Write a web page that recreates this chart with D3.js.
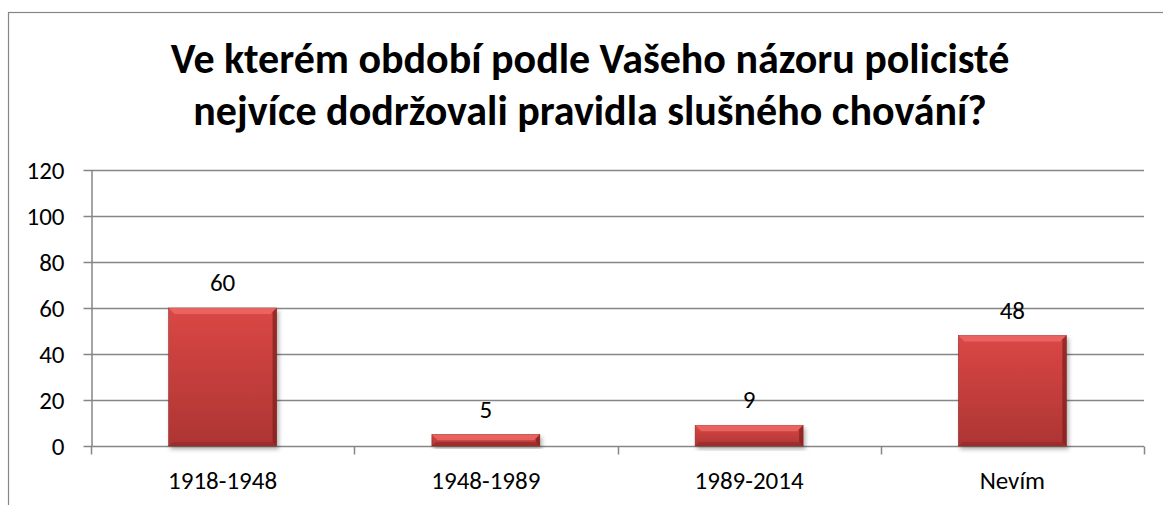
<!DOCTYPE html>
<html>
<head>
<meta charset="utf-8">
<script src="https://d3js.org/d3.v7.min.js"></script>
<style>
  body { margin: 0; background: white; }
  text { font-family: Carlito, Calibri, "Open Sans", "Liberation Sans", sans-serif; }
</style>
</head>
<body>
<script>
// data
var categories = ["1918-1948", "1948-1989", "1989-2014", "Nevím"];
var values = [60, 5, 9, 48];
var yTicks = [0, 20, 40, 60, 80, 100, 120];
var titleLines = ["Ve kterém období podle Vašeho názoru policisté", "nejvíce dodržovali pravidla slušného chování?"];

var width = 1163, height = 505;
var plotLeft = 91, plotRight = 1144, plotTop = 170, plotBottom = 446;
var fontStack = "Carlito, Calibri, 'Open Sans', 'Liberation Sans', sans-serif";

var svg = d3.select("body").append("svg")
    .attr("width", width)
    .attr("height", height);

var defs = svg.append("defs");
var grad = defs.append("linearGradient").attr("id", "barGrad")
    .attr("x1", 0).attr("y1", 0).attr("x2", 0).attr("y2", 1);
grad.append("stop").attr("offset", "0%").attr("stop-color", "#da4745");
grad.append("stop").attr("offset", "100%").attr("stop-color", "#ad3533");

var shadow = defs.append("filter").attr("id", "shadow")
    .attr("x", "-10%").attr("y", "-10%").attr("width", "130%").attr("height", "130%");
shadow.append("feDropShadow").attr("dx", 2).attr("dy", 3).attr("stdDeviation", 2)
    .attr("flood-color", "#000").attr("flood-opacity", 0.3);

// outer frame
svg.append("rect")
    .attr("x", 8.5).attr("y", 12.5)
    .attr("width", 1170).attr("height", 510)
    .attr("fill", "white").attr("stroke", "#868686").attr("stroke-width", 1.2);

// title
svg.append("g").selectAll("text")
    .data(titleLines)
    .enter().append("text")
    .attr("x", 590)
    .attr("y", function(d, i) { return 73 + i * 52; })
    .attr("text-anchor", "middle")
    .attr("font-size", "42px")
    .attr("font-weight", "bold")
    .attr("fill", "#000")
    .text(function(d) { return d; });

var x = d3.scaleBand().domain(categories).range([plotLeft, plotRight]).paddingInner(0.59).paddingOuter(0.295);
var xOuter = d3.scaleBand().domain(categories).range([plotLeft, plotRight]);
var y = d3.scaleLinear().domain([0, 120]).range([plotBottom, plotTop]);

// gridlines
svg.append("g").selectAll("line")
    .data(yTicks.filter(function(d) { return d > 0; }))
    .enter().append("line")
    .attr("x1", plotLeft).attr("x2", plotRight)
    .attr("y1", function(d) { return Math.round(y(d)) + 0.5; })
    .attr("y2", function(d) { return Math.round(y(d)) + 0.5; })
    .attr("stroke", "#868686").attr("stroke-width", 1.5);

// y axis
var yAxis = svg.append("g")
    .attr("transform", "translate(" + (plotLeft + 0.5) + ",0)")
    .call(d3.axisLeft(y).tickValues(yTicks).tickSize(8).tickPadding(19).tickSizeOuter(0));
yAxis.select("path").attr("stroke", "#868686").attr("stroke-width", 1.5);
yAxis.selectAll("line").attr("stroke", "#868686").attr("stroke-width", 1.5);
yAxis.selectAll("text").attr("font-size", "25px").attr("fill", "#000")
    .style("font-family", fontStack);

// x axis with ticks at category boundaries
var xAxisG = svg.append("g").attr("transform", "translate(0," + (plotBottom + 0.5) + ")");
xAxisG.append("line").attr("x1", plotLeft).attr("x2", plotRight)
    .attr("stroke", "#868686").attr("stroke-width", 1.5);
var bounds = categories.map(function(c) { return xOuter(c); }).concat([plotRight]);
xAxisG.selectAll("line.tick").data(bounds).enter().append("line")
    .attr("class", "tick")
    .attr("x1", function(d) { return Math.round(d) + 0.5; })
    .attr("x2", function(d) { return Math.round(d) + 0.5; })
    .attr("y1", 0).attr("y2", 8)
    .attr("stroke", "#868686").attr("stroke-width", 1.5);
xAxisG.selectAll("text").data(categories).enter().append("text")
    .attr("x", function(d) { return xOuter(d) + xOuter.bandwidth() / 2; })
    .attr("y", 42)
    .attr("text-anchor", "middle")
    .attr("font-size", "25px")
    .attr("fill", "#000")
    .text(function(d) { return d; });

// bars
var bars = svg.append("g").selectAll("g")
    .data(categories.map(function(c, i) { return { cat: c, val: values[i] }; }))
    .enter().append("g");

bars.append("rect")
    .attr("x", function(d) { return x(d.cat); })
    .attr("y", function(d) { return y(d.val); })
    .attr("width", x.bandwidth())
    .attr("height", function(d) { return y(0) - y(d.val); })
    .attr("fill", "url(#barGrad)")
    .attr("stroke", "#8a2826").attr("stroke-width", 0.6)
    .attr("filter", "url(#shadow)");

// bevel: top highlight
bars.append("path")
    .attr("d", function(d) {
        var x0 = x(d.cat), x1 = x0 + x.bandwidth(), y0 = y(d.val), b = Math.min(6, (y(0) - y(d.val)) / 2);
        return "M" + x0 + "," + y0 + "L" + x1 + "," + y0 + "L" + (x1 - b) + "," + (y0 + b) + "L" + (x0 + b) + "," + (y0 + b) + "Z";
    })
    .attr("fill", "#ee6a68").attr("opacity", 0.8);
// bevel: right dark edge
bars.append("path")
    .attr("d", function(d) {
        var x0 = x(d.cat), x1 = x0 + x.bandwidth(), y0 = y(d.val), y1 = y(0), b = Math.min(4, (y1 - y0) / 2);
        return "M" + x1 + "," + y0 + "L" + x1 + "," + y1 + "L" + (x1 - b) + "," + (y1 - b) + "L" + (x1 - b) + "," + (y0 + b) + "Z";
    })
    .attr("fill", "#7e1f1d").attr("opacity", 0.7);
// bevel: bottom dark edge
bars.append("path")
    .attr("d", function(d) {
        var x0 = x(d.cat), x1 = x0 + x.bandwidth(), y0 = y(d.val), y1 = y(0), b = Math.min(4, (y1 - y0) / 2);
        return "M" + x0 + "," + y1 + "L" + x1 + "," + y1 + "L" + (x1 - b) + "," + (y1 - b) + "L" + (x0 + b) + "," + (y1 - b) + "Z";
    })
    .attr("fill", "#8e2a28").attr("opacity", 0.6);

// value labels
bars.append("text")
    .attr("x", function(d) { return x(d.cat) + x.bandwidth() / 2; })
    .attr("y", function(d) { return y(d.val) - 17; })
    .attr("text-anchor", "middle")
    .attr("font-size", "25px")
    .attr("fill", "#000")
    .text(function(d) { return d.val; });
</script>
</body>
</html>
